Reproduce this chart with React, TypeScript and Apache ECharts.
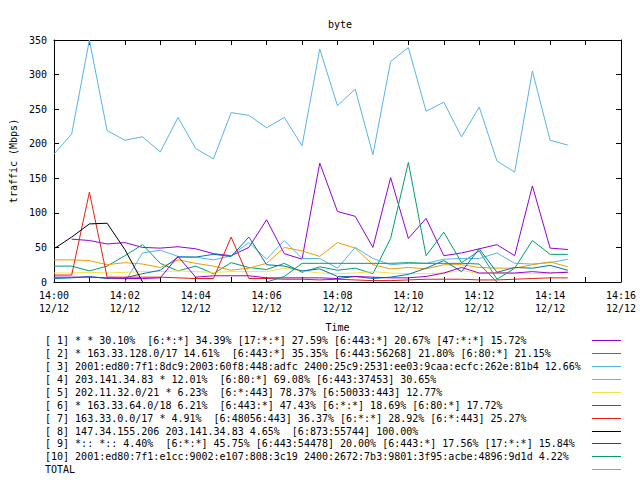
import React, { useEffect, useRef } from "react";
import * as echarts from "echarts";

// minutes after 14:00 (12/12)
const minutes = [0, 0.5, 1, 1.5, 2, 2.5, 3, 3.5, 4, 4.5, 5, 5.5, 6, 6.5, 7, 7.5, 8, 8.5, 9, 9.5, 10, 10.5, 11, 11.5, 12, 12.5, 13, 13.5, 14, 14.5];

const s1 = [null, 62, 60, 55, 57, 50, 49, 51, 48, 41, 38, 50, 90, 41, 33, 172, 102, 95, 50, 151, 63, 92, 38, 42, 48, 54, 38, 139, 49, 47];
const s2 = [23, 23, 16, 23, 38, 54, 27, 16, 23, 12, 28, 21, 18, 27, 14, 22, 17, 20, 12, 63, 173, 38, 72, 28, 45, 4, 20, 60, 40, 40];
const s3 = [null, null, null, null, 0, 42, 46, 37, 36, 32, 38, 57, 33, 60, 34, 34, 20, 50, 34, 25, 27, 27, 33, 34, 34, 42, 27, 26, 28, 33];
const s4 = [32, 32, 31, 25, 28, 26, 21, 32, 27, 23, 17, 20, 27, 50, 45, 37, 57, 49, 25, 19, 21, 19, 25, 25, 21, 20, 20, 25, 29, 22];
const s5 = [13, 13, 14, 13, 14, 15, 15, 16, 15, 14, 15, 15, 15, 20, 16, 13, 12, 13, 15, 13, 12, 12, 13, 17, 12, 14, 12, 12, 13, 15];
const s6 = [5, 6, 8, 5, 6, 12, 17, 36, 36, 40, 37, 65, 25, 23, 16, 19, 8, 8, 5, 7, 11, 20, 31, 15, 48, 14, 21, 20, 24, 17];
const s7 = [10, 10, 130, 7, 7, 7, 7, 6, 5, 5, 65, 5, 5, 4, 4, 3, 4, 3, 2, 2, 3, 4, 4, 4, 3, 3, 4, 5, 6, 6];
const s8 = [48, 65, 84, 85, 47, 0, null, null, null, null, null, null, null, null, null, null, null, null, null, null, null, null, null, null, null, null, null, null, null, null];
const s9 = [7, 7, 7, 6, 5, 5, 6, 37, 7, 9, 9, 9, 6, 6, 6, 6, 5, 8, 7, 6, 6, 8, 13, 21, 13, 13, 13, 15, 13, 14];
const s10 = [null, null, null, null, null, null, null, null, null, null, null, null, 0, 8, 27, 27, 27, 27, 27, 27, 28, 27, 27, 27, 26, 0, null, null, null, null];
const total = [185, 214, 350, 219, 205, 210, 188, 238, 193, 178, 245, 241, 223, 238, 197, 337, 255, 279, 184, 319, 339, 247, 260, 210, 253, 175, 159, 305, 205, 198];

const seriesValues = [s1, s2, s3, s4, s5, s6, s7, s8, s9, s10, total];

const legendLabels = [
  "[ 1] * * 30.10%  [6:*:*] 34.39% [17:*:*] 27.59% [6:443:*] 20.67% [47:*:*] 15.72%",
  "[ 2] * 163.33.128.0/17 14.61%  [6:443:*] 35.35% [6:443:56268] 21.80% [6:80:*] 21.15%",
  "[ 3] 2001:ed80:7f1:8dc9:2003:60f8:448:adfc 2400:25c9:2531:ee03:9caa:ecfc:262e:81b4 12.66%",
  "[ 4] 203.141.34.83 * 12.01%  [6:80:*] 69.08% [6:443:37453] 30.65%",
  "[ 5] 202.11.32.0/21 * 6.23%  [6:*:443] 78.37% [6:50033:443] 12.77%",
  "[ 6] * 163.33.64.0/18 6.21%  [6:443:*] 47.43% [6:*:*] 18.69% [6:80:*] 17.72%",
  "[ 7] 163.33.0.0/17 * 4.91%  [6:48056:443] 36.37% [6:*:*] 28.92% [6:*:443] 25.27%",
  "[ 8] 147.34.155.206 203.141.34.83 4.65%  [6:873:55744] 100.00%",
  "[ 9] *:: *:: 4.40%  [6:*:*] 45.75% [6:443:54478] 20.00% [6:443:*] 17.56% [17:*:*] 15.84%",
  "[10] 2001:ed80:7f1:e1cc:9002:e107:808:3c19 2400:2672:7b3:9801:3f95:acbe:4896:9d1d 4.22%",
  "TOTAL",
];

const colors = ["#9400d3", "#009e73", "#56b4e9", "#e69f00", "#f0e442", "#0072b2", "#e51e10", "#000000", "#9400d3", "#009e73", "#56b4e9"];

const FONT = "'DejaVu Sans Mono', monospace";

export default function App() {
  const ref = useRef<HTMLDivElement>(null);
  useEffect(() => {
    document.body.style.margin = "0";
    const chart = echarts.init(ref.current!, null, { renderer: "svg" });
    const fmtX = (v: number) => (v % 2 === 0 ? `14:${String(v).padStart(2, "0")}\n12/12` : "");
    const tick = { inside: true, length: 5, lineStyle: { color: "#000", width: 1 } };
    const line = { show: true, onZero: false, lineStyle: { color: "#000", width: 1 } };
    const lbl = { color: "#000", fontFamily: FONT, fontSize: 10 };
    const legendGraphics: any[] = [];
    legendLabels.forEach((t, k) => {
      const y = Math.round(340 + 12.93 * k) + 0.5;
      legendGraphics.push({
        type: "text",
        x: 45,
        y,
        style: { text: t, fill: "#000", font: `10px ${FONT}`, textVerticalAlign: "middle", textAlign: "left" },
      });
      legendGraphics.push({
        type: "line",
        shape: { x1: 592, y1: y, x2: 621, y2: y },
        style: { stroke: colors[k], lineWidth: 1 },
      });
    });
    chart.setOption({
      animation: false,
      backgroundColor: "#fff",
      title: {
        text: "byte",
        left: 335,
        top: 14,
        textAlign: "center",
        textStyle: { ...lbl, fontWeight: "normal" },
      },
      grid: { left: 52, top: 40, width: 569, height: 242 },
      xAxis: [
        {
          type: "value",
          min: 0,
          max: 16,
          interval: 1,
          axisLine: line,
          axisTick: tick,
          splitLine: { show: false },
          axisLabel: { ...lbl, margin: 7, lineHeight: 13, formatter: fmtX },
          name: "Time",
          nameLocation: "middle",
          nameGap: 40,
          nameTextStyle: lbl,
        },
        {
          type: "value",
          position: "top",
          min: 0,
          max: 16,
          interval: 1,
          axisLine: line,
          axisTick: tick,
          splitLine: { show: false },
          axisLabel: { show: false },
        },
      ],
      yAxis: [
        {
          type: "value",
          min: 0,
          max: 350,
          interval: 50,
          axisLine: line,
          axisTick: tick,
          splitLine: { show: false },
          axisLabel: { ...lbl, margin: 7 },
          name: "traffic (Mbps)",
          nameLocation: "middle",
          nameGap: 35,
          nameRotate: 90,
          nameTextStyle: lbl,
        },
        {
          type: "value",
          position: "right",
          min: 0,
          max: 350,
          interval: 50,
          axisLine: line,
          axisTick: tick,
          splitLine: { show: false },
          axisLabel: { show: false },
        },
      ],
      series: seriesValues.map((vals, k) => ({
        type: "line",
        name: legendLabels[k],
        xAxisIndex: 0,
        yAxisIndex: 0,
        data: vals.map((v, i) => [minutes[i], v]),
        showSymbol: false,
        symbol: "none",
        lineStyle: { color: colors[k], width: 1 },
        itemStyle: { color: colors[k] },
        emphasis: { disabled: true },
        z: 2 + k,
      })),
      graphic: legendGraphics,
    });
    return () => chart.dispose();
  }, []);
  return <div ref={ref} style={{ width: 640, height: 480, position: "absolute", left: 0, top: 0 }} />;
}
